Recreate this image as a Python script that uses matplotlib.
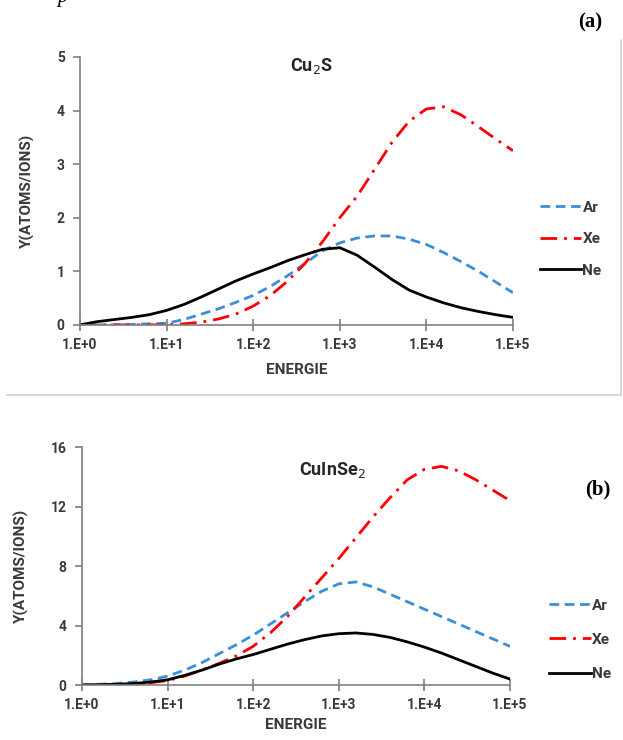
import numpy as np
import matplotlib
matplotlib.use("Agg")
import matplotlib.pyplot as plt
from matplotlib.lines import Line2D

plt.rcParams['font.family'] = ['Roboto', 'DejaVu Sans']

# energie en decades (10**k)
dec = [0, 0.2, 0.4, 0.6, 0.8, 1.0, 1.2, 1.4, 1.6, 1.8, 2.0, 2.2, 2.4,
       2.6, 2.8, 3.0, 3.2, 3.4, 3.6, 3.8, 4.0, 4.2, 4.4, 4.6, 4.8, 5.0]

# (a) Cu2S
ar_a = [0, 0, 0, 0.01, 0.02, 0.03, 0.1, 0.2, 0.3, 0.42, 0.55, 0.72, 0.92,
        1.15, 1.38, 1.53, 1.62, 1.66, 1.66, 1.6, 1.5, 1.35, 1.18, 1.0, 0.8, 0.6]
xe_a = [0, 0, 0, 0, 0, 0, 0.02, 0.05, 0.11, 0.2, 0.35, 0.55, 0.82,
        1.15, 1.55, 2.0, 2.4, 2.9, 3.4, 3.8, 4.03, 4.07, 3.92, 3.7, 3.47, 3.25]
ne_a = [0, 0.06, 0.1, 0.14, 0.19, 0.27, 0.38, 0.52, 0.67, 0.82, 0.95, 1.07, 1.2,
        1.31, 1.41, 1.44, 1.3, 1.08, 0.85, 0.65, 0.52, 0.41, 0.32, 0.25, 0.19, 0.14]

# (b) CuInSe2
ar_b = [0, 0.05, 0.1, 0.2, 0.35, 0.6, 1.0, 1.5, 2.1, 2.7, 3.35, 4.1, 4.85,
        5.6, 6.3, 6.8, 6.93, 6.6, 6.1, 5.6, 5.1, 4.6, 4.1, 3.6, 3.1, 2.6]
xe_b = [0, 0, 0, 0.05, 0.15, 0.3, 0.6, 1.0, 1.45, 1.95, 2.6, 3.5, 4.6,
        5.9, 7.2, 8.5, 9.9, 11.3, 12.6, 13.8, 14.5, 14.7, 14.4, 13.8, 13.1, 12.4]
ne_b = [0, 0.02, 0.05, 0.1, 0.2, 0.35, 0.65, 1.0, 1.4, 1.75, 2.05, 2.4, 2.75,
        3.05, 3.3, 3.45, 3.5, 3.4, 3.2, 2.9, 2.55, 2.15, 1.7, 1.25, 0.8, 0.4]

xticks = [1, 10, 100, 1000, 10000, 100000]
xlabels = ['1.E+0', '1.E+1', '1.E+2', '1.E+3', '1.E+4', '1.E+5']

txt = '#3a3a3a'
axc = '#7f7f7f'

fig = plt.figure(figsize=(6.23, 7.40), dpi=100)


def panel(rect, ar, xe, ne, ymax, ystep, title, title_xy, leg_xy, leg_sp, xlabpad):
    ax = fig.add_axes(rect)
    x = 10 ** np.array(dec)
    ax.plot(x, ar, color='#3b8fd9', lw=2.0, linestyle=(0, (3.5, 2)), label='Ar')
    ax.plot(x, xe, color='#ff0000', lw=2.0, linestyle=(0, (6, 2.5, 1, 2.5)), label='Xe')
    ax.plot(x, ne, color='black', lw=2.0, label='Ne')
    ax.set_xscale('log')
    ax.set_xlim(1, 1e5)
    ax.set_ylim(0, ymax)
    ax.set_xticks(xticks)
    ax.set_xticklabels(xlabels)
    ax.minorticks_off()
    ax.set_yticks(np.arange(0, ymax + 1, ystep))
    for s in ['top', 'right']:
        ax.spines[s].set_visible(False)
    for s in ['left', 'bottom']:
        ax.spines[s].set_color(axc)
        ax.spines[s].set_linewidth(1.2)
    ax.tick_params(axis='x', direction='inout', length=9, width=1.2, color=axc,
                   labelsize=10, labelcolor=txt, pad=5)
    ax.tick_params(axis='y', direction='out', length=5, width=1.2, color=axc,
                   labelsize=10, labelcolor=txt, pad=6)
    for lab in ax.get_xticklabels() + ax.get_yticklabels():
        lab.set_fontweight('bold')
    ax.set_xlabel('ENERGIE', fontsize=11, fontweight='bold', color=txt, labelpad=xlabpad)
    ax.set_ylabel('Y(ATOMS/IONS)', fontsize=11, fontweight='bold', color=txt, labelpad=16)
    ax.text(title_xy[0], title_xy[1], title, transform=ax.transAxes, fontsize=13,
            fontweight='bold', color='#262626', ha='center', va='center')
    ax.legend(loc='center left', bbox_to_anchor=leg_xy, frameon=False,
              handlelength=2.7, handletextpad=0.1, labelspacing=leg_sp,
              prop={'size': 11, 'weight': 'bold'}, labelcolor=txt)
    return ax


ax1 = panel([0.1284, 0.561, 0.695, 0.362], ar_a, xe_a, ne_a, 5, 1,
            r'Cu$_2$S', (0.535, 0.965), (1.03, 0.32), 1.15, 8)
ax2 = panel([0.1316, 0.0743, 0.687, 0.3216], ar_b, xe_b, ne_b, 16, 4,
            r'CuInSe$_2$', (0.585, 0.905), (1.06, 0.19), 1.32, 4)

fig.text(0.947, 0.97, '(a)', fontsize=15, fontweight='bold', family='Liberation Serif', ha='center', va='center')
fig.text(0.96, 0.338, '(b)', fontsize=15, fontweight='bold', family='Liberation Serif', ha='center', va='center')
fig.text(0.1, 1.004, 'p', fontsize=15, style='italic', family='Liberation Serif', ha='center', va='center')

# cadre gris du premier graphique
fig.add_artist(Line2D([0.997, 0.997], [0.946, 0.466], color='#d0d0d0', lw=1.2))
fig.add_artist(Line2D([0.012, 0.997], [0.466, 0.466], color='#d0d0d0', lw=1.2))

fig.savefig('out.png', dpi=100)
